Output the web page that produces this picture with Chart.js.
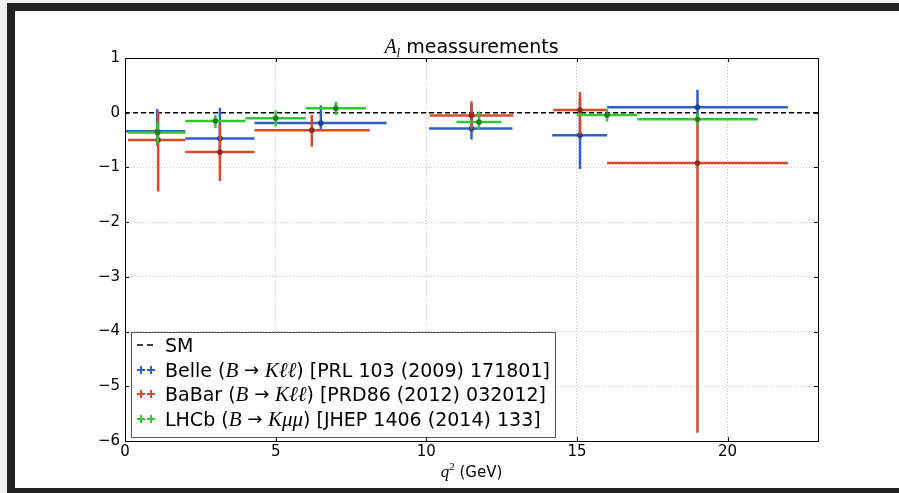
<!DOCTYPE html>
<html lang="en">
<head>
<meta charset="UTF-8">
<title>A_l meassurements</title>
<script src="https://cdn.jsdelivr.net/npm/chart.js"></script>
<style>
    html, body { margin: 0; padding: 0; background: #f0f0f0; overflow: hidden; }
    #frame { position: absolute; left: 7px; top: 3px; width: 900px; height: 490px; background: #222; }
    #panel { position: absolute; left: 8px; top: 8px; width: 884px; height: 477px; background: #fff; }
</style>
</head>
<body>
<div id="frame"><div id="panel"><canvas id="chart" width="884" height="477"></canvas></div></div>

<script>
    // Belle (B -> K l l)
    const belleX    = [1.07, 3.15, 6.5, 11.5, 15.1, 19.0];
    const belleY    = [-0.34, -0.47, -0.19, -0.29, -0.41, 0.10];
    const belleXlo  = [0, 2, 4.3, 10.09, 14.18, 16];
    const belleXhi  = [2, 4.3, 8.68, 12.86, 16, 22];
    const belleUp   = [0.41, 0.56, 0.32, 0.45, 0.68, 0.32];
    const belleDown = [0.25, 0.33, 0.14, 0.20, 0.62, 0.30];

    // BaBar (B -> K l l)
    const babarX    = [1.1, 3.15, 6.2, 11.5, 15.1, 19.0];
    const babarY    = [-0.50, -0.72, -0.32, -0.05, 0.05, -0.92];
    const babarXlo  = [0.1, 2, 4.3, 10.11, 14.21, 16];
    const babarXhi  = [2, 4.3, 8.12, 12.89, 16, 22];
    const babarUp   = [0.52, 0.50, 0.28, 0.26, 0.33, 0.90];
    const babarDown = [0.94, 0.53, 0.30, 0.25, 0.45, 4.93];

    // LHCb (B -> K mu mu)
    const lhcbX    = [1.08, 3.0, 5.0, 7.0, 11.75, 16.0, 19.0];
    const lhcbY    = [-0.36, -0.15, -0.10, 0.08, -0.17, -0.04, -0.12];
    const lhcbXlo  = [0.1, 2, 4, 6, 11, 15, 17];
    const lhcbXhi  = [2, 4, 6, 8, 12.5, 17, 21];
    const lhcbUp   = [0.18, 0.11, 0.14, 0.12, 0.19, 0.11, 0.11];
    const lhcbDown = [0.21, 0.13, 0.15, 0.12, 0.14, 0.12, 0.10];

    // Standard model line
    const smX = [0, 23];
    const smY = [0, 0];

    const xTicks = [0, 5, 10, 15, 20];
    const yTicks = [1, 0, -1, -2, -3, -4, -5, -6];

    const seriesNames = ['Belle', 'BaBar', 'LHCb'];
    const decays = [['B', 'K', 'ℓℓ'], ['B', 'K', 'ℓℓ'], ['B', 'K', 'μμ']];
    const refs = ['[PRL 103 (2009) 171801]', '[PRD86 (2012) 032012]', '[JHEP 1406 (2014) 133]'];
    const colors = ['#2b62c8', '#d9482a', '#33c633'];
    const darkColors = ['#1c3f8a', '#8c2c18', '#1f7d1f'];

    const SANS = '"DejaVu Sans", sans-serif';
    const SERIF = '"Liberation Serif", "DejaVu Serif", serif';

    function pts(xs, ys) {
        return xs.map((x, i) => ({ x: x, y: ys[i] }));
    }
    function errs(lo, hi, up, down) {
        return lo.map((l, i) => ({ xLo: l, xHi: hi[i], up: up[i], down: down[i] }));
    }

    // error bars are drawn right before each dataset's markers
    const errorBars = {
        id: 'errorBars',
        beforeDatasetDraw(chart, args) {
            const ds = chart.data.datasets[args.index];
            if (!ds.err) return;
            const xs = chart.scales.x, ys = chart.scales.y;
            const ctx = chart.ctx;
            ctx.save();
            ctx.strokeStyle = ds.borderColor;
            ctx.lineWidth = 2.5;
            ctx.lineCap = 'butt';
            ds.data.forEach((p, i) => {
                const e = ds.err[i];
                const px = xs.getPixelForValue(p.x), py = ys.getPixelForValue(p.y);
                ctx.beginPath();
                ctx.moveTo(xs.getPixelForValue(e.xLo), py);
                ctx.lineTo(xs.getPixelForValue(e.xHi), py);
                ctx.moveTo(px, ys.getPixelForValue(p.y + e.up));
                ctx.lineTo(px, ys.getPixelForValue(p.y - e.down));
                ctx.stroke();
            });
            ctx.restore();
        }
    };

    // axes box with inward ticks, like matplotlib
    const axesBox = {
        id: 'axesBox',
        afterDatasetsDraw(chart) {
            const { ctx, chartArea: a } = chart;
            const xs = chart.scales.x, ys = chart.scales.y;
            ctx.save();
            ctx.strokeStyle = '#000';
            ctx.lineWidth = 1;
            ctx.strokeRect(Math.round(a.left) + 0.5, Math.round(a.top) + 0.5,
                Math.round(a.right - a.left), Math.round(a.bottom - a.top));
            ctx.beginPath();
            xTicks.forEach(v => {
                const px = Math.round(xs.getPixelForValue(v)) + 0.5;
                ctx.moveTo(px, a.bottom); ctx.lineTo(px, a.bottom - 4);
                ctx.moveTo(px, a.top); ctx.lineTo(px, a.top + 4);
            });
            yTicks.forEach(v => {
                const py = Math.round(ys.getPixelForValue(v)) + 0.5;
                ctx.moveTo(a.left, py); ctx.lineTo(a.left + 4, py);
                ctx.moveTo(a.right, py); ctx.lineTo(a.right - 4, py);
            });
            ctx.stroke();
            ctx.restore();
        }
    };

    // draw a run of [text, font, dy] pieces starting at x
    function drawRich(ctx, parts, x, y) {
        parts.forEach(p => {
            ctx.font = p[1];
            ctx.fillText(p[0], x, y + (p[2] || 0));
            x += ctx.measureText(p[0]).width;
        });
        return x;
    }
    function richWidth(ctx, parts) {
        let w = 0;
        parts.forEach(p => { ctx.font = p[1]; w += ctx.measureText(p[0]).width; });
        return w;
    }

    const labels = {
        id: 'labels',
        afterDraw(chart) {
            const { ctx, chartArea: a } = chart;
            ctx.save();
            ctx.fillStyle = '#000';
            ctx.textBaseline = 'alphabetic';
            ctx.textAlign = 'left';
            const cx = (a.left + a.right) / 2;

            // title
            const title = [['A', 'italic 20px ' + SERIF], ['l', 'italic 13px ' + SERIF, 4], [' meassurements', '19px ' + SANS]];
            drawRich(ctx, title, cx - richWidth(ctx, title) / 2, 42);

            // x axis label
            const xl = [['q', 'italic 17px ' + SERIF], ['2', '11px ' + SERIF, -7], [' (GeV)', '15px ' + SANS]];
            drawRich(ctx, xl, cx - richWidth(ctx, xl) / 2, 466);

            // legend
            const bx = 116, by = 321, bw = 424, bh = 105;
            ctx.fillStyle = '#fff';
            ctx.fillRect(bx, by, bw, bh);
            ctx.strokeStyle = '#555';
            ctx.lineWidth = 1;
            ctx.strokeRect(bx + 0.5, by + 0.5, bw, bh);
            const rows = [334, 359, 383, 408];
            ctx.fillStyle = '#000';
            // SM handle
            ctx.strokeStyle = '#000';
            ctx.lineWidth = 1.5;
            ctx.beginPath();
            ctx.moveTo(122, rows[0]); ctx.lineTo(128, rows[0]);
            ctx.moveTo(132, rows[0]); ctx.lineTo(138, rows[0]);
            ctx.stroke();
            drawRich(ctx, [['SM', '19px ' + SANS]], 150, rows[0] + 7);
            seriesNames.forEach((name, i) => {
                const y = rows[i + 1];
                ctx.strokeStyle = colors[i];
                ctx.lineWidth = 2;
                ctx.beginPath();
                [126, 136].forEach(hx => {
                    ctx.moveTo(hx - 4, y); ctx.lineTo(hx + 4, y);
                    ctx.moveTo(hx, y - 4); ctx.lineTo(hx, y + 4);
                });
                ctx.stroke();
                const d = decays[i];
                drawRich(ctx, [
                    [name + ' (', '19px ' + SANS],
                    [d[0], 'italic 21px ' + SERIF],
                    [' \u2192 ', '18px ' + SANS, -1],
                    [d[1], 'italic 21px ' + SERIF],
                    [d[2], 'italic 21px ' + SERIF],
                    [') ' + refs[i], '19px ' + SANS]
                ], 150, y + 7);
            });
            ctx.restore();
        }
    };

    Chart.defaults.font.family = SANS;
    Chart.defaults.color = '#000';

    const ctx = document.getElementById('chart').getContext('2d');
    const chart = new Chart(ctx, {
        type: 'scatter',
        data: {
            datasets: [
                {
                    type: 'line', label: 'SM', data: pts(smX, smY),
                    borderColor: '#000', borderWidth: 1.4, borderDash: [5, 3],
                    pointRadius: 0, order: 4
                },
                {
                    label: 'Belle', data: pts(belleX, belleY), err: errs(belleXlo, belleXhi, belleUp, belleDown),
                    borderColor: colors[0], backgroundColor: darkColors[0],
                    pointRadius: 2.6, pointBorderWidth: 0.5, pointBorderColor: darkColors[0], order: 3
                },
                {
                    label: 'BaBar', data: pts(babarX, babarY), err: errs(babarXlo, babarXhi, babarUp, babarDown),
                    borderColor: colors[1], backgroundColor: darkColors[1],
                    pointRadius: 2.6, pointBorderWidth: 0.5, pointBorderColor: darkColors[1], order: 2
                },
                {
                    label: 'LHCb', data: pts(lhcbX, lhcbY), err: errs(lhcbXlo, lhcbXhi, lhcbUp, lhcbDown),
                    borderColor: colors[2], backgroundColor: darkColors[2],
                    pointRadius: 2.6, pointBorderWidth: 0.5, pointBorderColor: darkColors[2], order: 1
                }
            ]
        },
        options: {
            responsive: false,
            animation: false,
            layout: { padding: { left: 0, top: 47, right: 81, bottom: 0 } },
            plugins: {
                legend: { display: false },
                title: { display: false },
                tooltip: { enabled: false }
            },
            scales: {
                x: {
                    type: 'linear', min: 0, max: 23,
                    afterFit: s => { s.height = 47; },
                    afterBuildTicks: s => { s.ticks = xTicks.map(v => ({ value: v })); },
                    ticks: { font: { size: 15 }, padding: 2, maxRotation: 0, autoSkip: false },
                    grid: { color: 'rgba(0,0,0,0.3)', lineWidth: 0.8, drawTicks: false },
                    border: { display: false, dash: [1, 2] }
                },
                y: {
                    type: 'linear', min: -6, max: 1,
                    afterFit: s => { s.width = 110; },
                    afterBuildTicks: s => { s.ticks = yTicks.map(v => ({ value: v })); },
                    ticks: {
                        font: { size: 15 }, padding: 5, autoSkip: false,
                        callback: v => v < 0 ? '\u2212' + Math.abs(v) : String(v)
                    },
                    grid: { color: 'rgba(0,0,0,0.3)', lineWidth: 0.8, drawTicks: false },
                    border: { display: false, dash: [1, 2] }
                }
            }
        },
        plugins: [errorBars, axesBox, labels]
    });
</script>
</body>
</html>
